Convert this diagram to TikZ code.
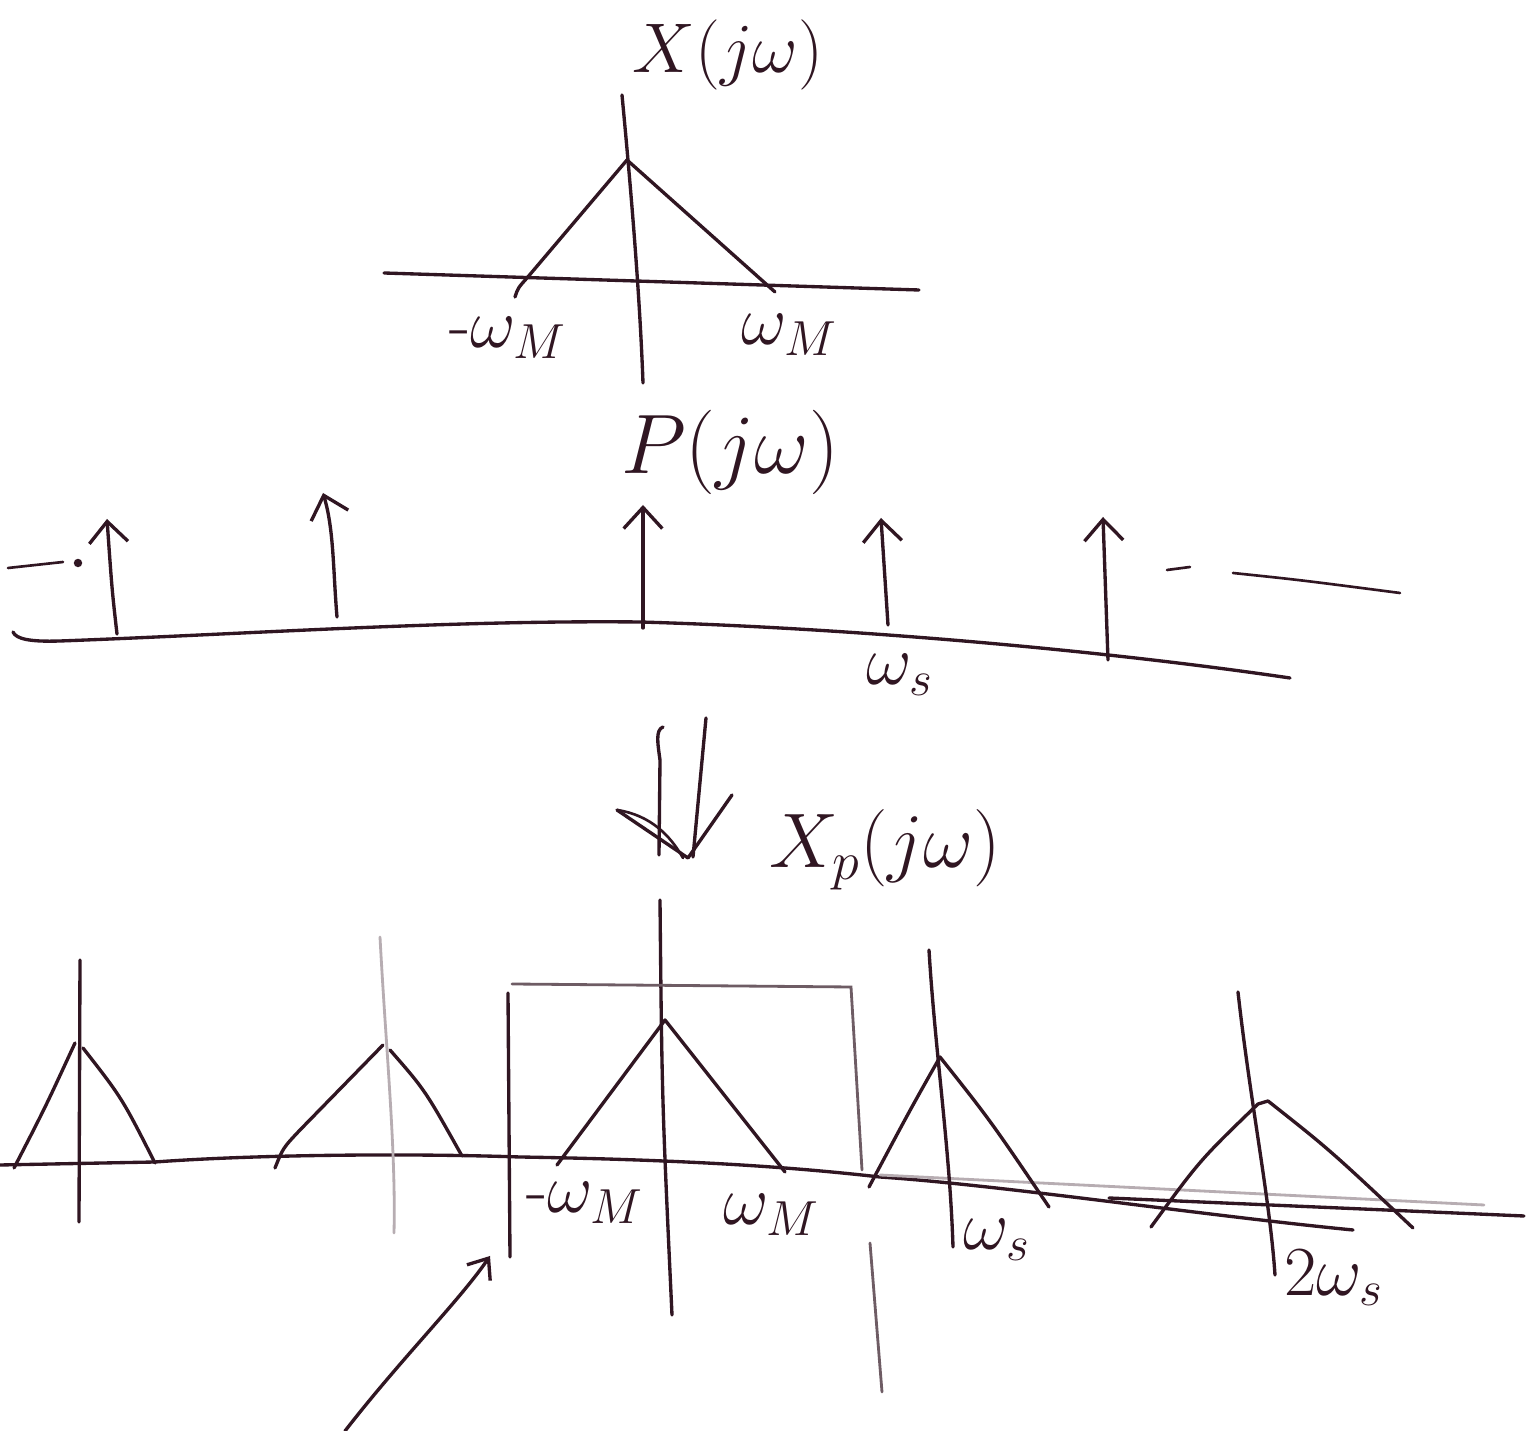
\documentclass[tikz,border=0pt]{standalone}
\usepackage{fix-cm}
\usetikzlibrary{arrows.meta}
\definecolor{inkc}{RGB}{48,22,34}
\begin{document}
\begin{tikzpicture}[x=0.01cm,y=-0.01cm,
  ink/.style={draw=inkc,line width=0.95pt,line cap=round,line join=round},
  thin/.style={draw=inkc,line width=0.75pt,line cap=round},
  pale/.style={draw=inkc!35,line width=0.8pt,line cap=round},
  mid/.style={draw=inkc!70,line width=0.8pt,line cap=round},
  imp/.style={ink,-{Straight Barb[length=6pt,width=11pt,line width=0.95pt]}},
  lbl/.style={text=inkc,inner sep=0pt},
  big/.style={lbl,font=\fontsize{22}{26}\selectfont},
  sml/.style={lbl,font=\fontsize{20}{24}\selectfont}]
\fill[white] (0,0) rectangle (1538,1431);
\useasboundingbox (0,0) rectangle (1538,1431);

% ---------- X(jw) ----------
\node[lbl,font=\fontsize{20}{24}\selectfont] (xlab) at (728,55) {$X(j\omega)$};
\draw[ink] (622,95) .. controls (632,200) and (640,300) .. (643,383);
\draw[ink] (384,273) -- (919,290);
\draw[ink] (515,297) .. controls (518,288) .. (527,278) -- (627,160) -- (775,292);
\node[sml] (mwm1) at (508,338) {$\mbox{-}\omega_M$};
\node[sml] (wm1) at (790,335) {$\omega_M$};

% ---------- P(jw) ----------
\node[lbl,font=\fontsize{24}{28}\selectfont] (plab) at (730,452) {$P(j\omega)$};
\draw[ink] (13,632) .. controls (16,639) and (30,642) .. (60,641)
  .. controls (250,634) and (450,620) .. (640,622)
  .. controls (850,628) and (1100,650) .. (1290,678);
\draw[imp] (117,634) .. controls (112,590) .. (107,519);
\draw[imp] (337,617) .. controls (333,570) and (334,530) .. (323,493);
\draw[imp] (643,628) -- (643,505);
\draw[imp] (888,625) -- (881,518);
\draw[imp] (1108,660) -- (1103,517);
\draw[thin] (8,568) -- (63,562);
\fill[inkc] (78,563) circle[radius=1.2pt];
\draw[thin] (1167,570) -- (1190,567);
\draw[thin] (1233,573) .. controls (1300,580) .. (1400,593);
\node[sml] (ws1) at (900,675) {$\omega_s$};

% ---------- double arrow ----------
\draw[ink] (663,727) .. controls (655,730) and (658,745) .. (660,760) -- (659,855);
\draw[ink] (706,718) -- (693,857);
\draw[ink] (617,810) -- (688,858) -- (732,795);
\draw[thin] (617,810) .. controls (650,815) and (670,835) .. (683,858);
\node[big] (xplab) at (885,850) {$X_p(j\omega)$};

% ---------- Xp(jw) ----------
\draw[ink] (0,1165) -- (155,1162) .. controls (250,1155) and (400,1153) .. (520,1157)
  .. controls (700,1160) and (800,1168) .. (880,1177)
  .. controls (1000,1185) and (1200,1215) .. (1353,1230);
\draw[pale] (880,1175) -- (1484,1205);
\draw[ink] (1109,1198) -- (1524,1216);

% central replica and box
\draw[ink] (660,900) .. controls (662,1100) .. (672,1315);
\draw[ink] (557,1165) -- (665,1020) -- (785,1172);
\draw[ink] (508,993) -- (510,1257);
\draw[mid] (512,984) -- (851,987) -- (862,1170);
\draw[mid] (870,1243) -- (882,1392);
\node[sml] (mwm2) at (585,1203) {$\mbox{-}\omega_M$};
\node[sml] (wm2) at (772,1215) {$\omega_M$};

% replica at -2ws
\draw[ink] (80,960) -- (79,1222);
\draw[ink] (14,1168) .. controls (45,1108) .. (75,1043);
\draw[ink] (83,1048) .. controls (122,1098) .. (155,1163);
% replica at -ws
\draw[pale] (380,937) .. controls (386,1050) and (396,1150) .. (394,1233);
\draw[ink] (275,1168) .. controls (283,1148) .. (300,1130) -- (383,1045);
\draw[ink] (390,1050) .. controls (425,1090) .. (462,1156);
% replica at ws
\draw[ink] (929,950) .. controls (935,1050) and (950,1150) .. (953,1247);
\draw[ink] (869,1187) .. controls (910,1110) .. (940,1057) .. controls (990,1120) .. (1049,1207);
\node[sml] (ws2) at (997,1240) {$\omega_s$};
% replica at 2ws
\draw[ink] (1238,992) .. controls (1250,1100) and (1270,1200) .. (1275,1275);
\draw[ink] (1151,1227) .. controls (1200,1160) .. (1258,1104) -- (1268,1101)
  .. controls (1330,1150) .. (1413,1228);
\node[sml] (2ws) at (1334,1278) {$2\omega_s$};

% pointer
\draw[ink,-{Straight Barb[length=5pt,width=8pt,line width=0.95pt]}] (345,1431) .. controls (400,1360) and (460,1300) .. (490,1256);
\end{tikzpicture}
\end{document}
